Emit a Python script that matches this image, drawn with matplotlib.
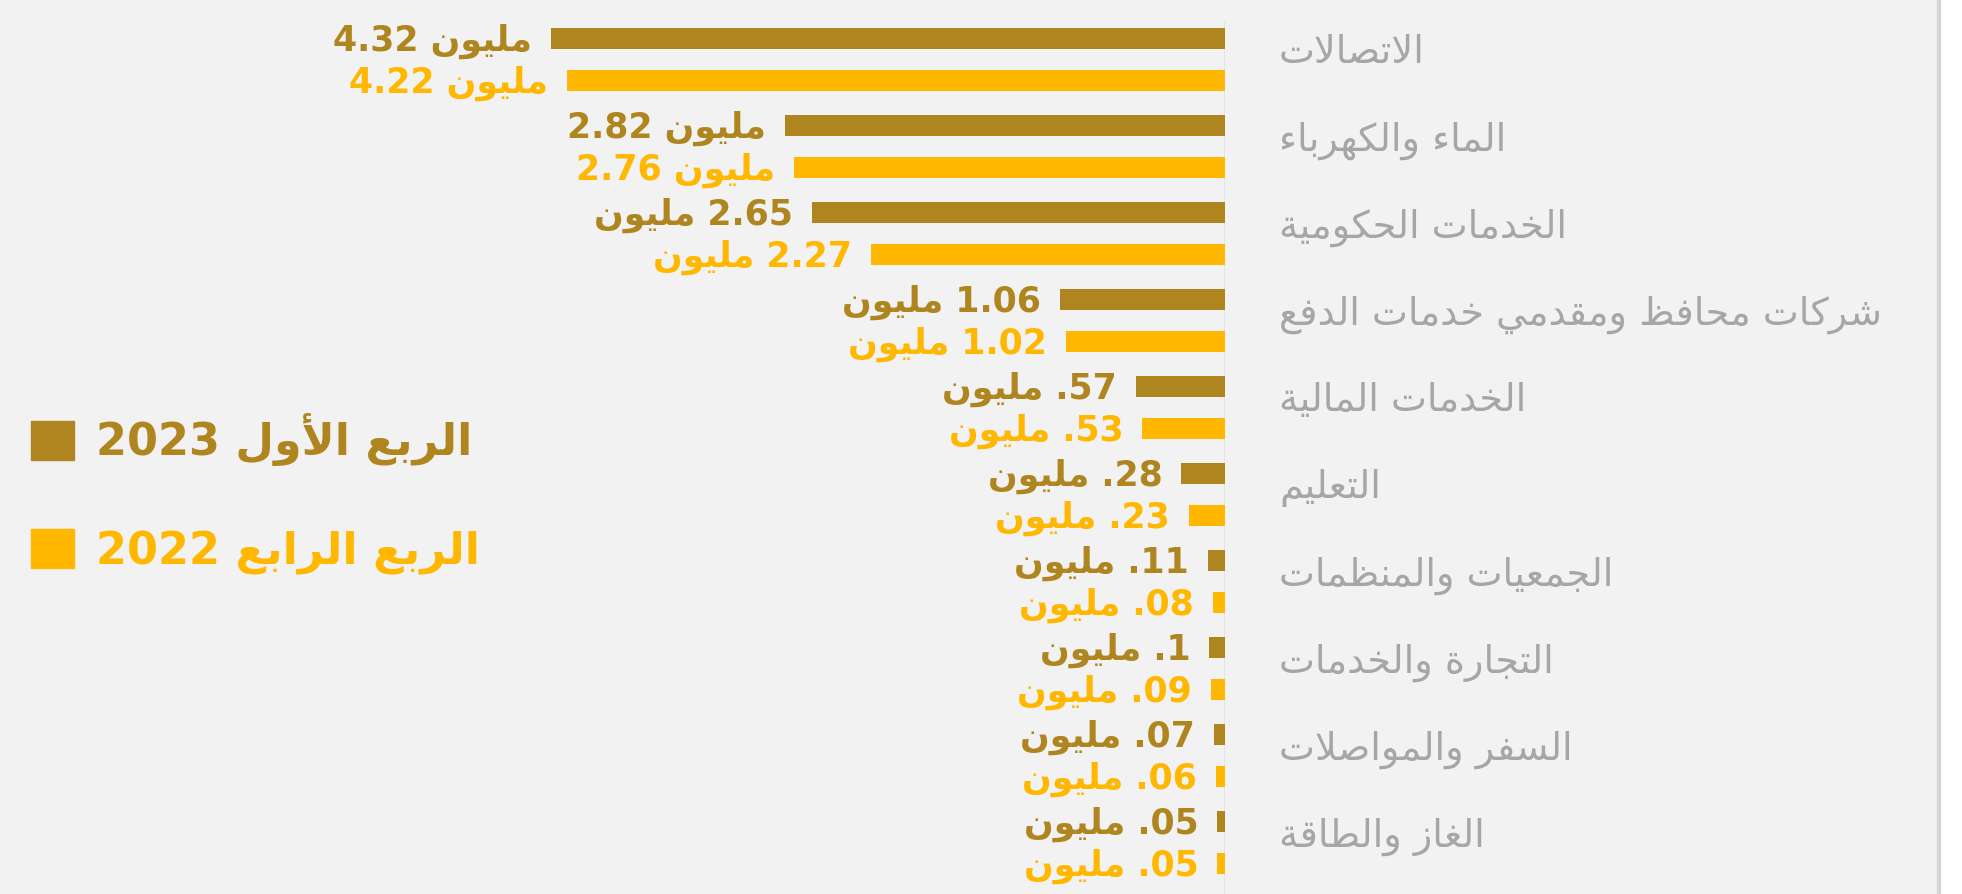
import matplotlib
matplotlib.use("Agg")
import matplotlib.pyplot as plt
from matplotlib.patches import Patch, Rectangle

# ---- data ----
categories = [
    "الاتصالات",
    "الماء والكهرباء",
    "الخدمات الحكومية",
    "شركات محافظ ومقدمي خدمات الدفع",
    "الخدمات المالية",
    "التعليم",
    "الجمعيات والمنظمات",
    "التجارة والخدمات",
    "السفر والمواصلات",
    "الغاز والطاقة",
]
q1_2023 = [4.32, 2.82, 2.65, 1.06, 0.57, 0.28, 0.11, 0.10, 0.07, 0.05]
q4_2022 = [4.22, 2.76, 2.27, 1.02, 0.53, 0.23, 0.08, 0.09, 0.06, 0.05]
series_names = ["الربع الأول 2023", "الربع الرابع 2022"]
unit = "مليون"
unit_first_rows = 2  # the top rows put the unit before the number

DARK = "#af8520"
YELLOW = "#ffb700"
GREY = "#a6a6a6"
BG = "#f2f2f2"

# ---- minimal Arabic shaping (matplotlib has no bidi / joining) ----
FORMS = {
    "ء": (0xFE80, 1), "آ": (0xFE81, 2), "أ": (0xFE83, 2), "ؤ": (0xFE85, 2),
    "إ": (0xFE87, 2), "ئ": (0xFE89, 4), "ا": (0xFE8D, 2), "ب": (0xFE8F, 4),
    "ة": (0xFE93, 2), "ت": (0xFE95, 4), "ث": (0xFE99, 4), "ج": (0xFE9D, 4),
    "ح": (0xFEA1, 4), "خ": (0xFEA5, 4), "د": (0xFEA9, 2), "ذ": (0xFEAB, 2),
    "ر": (0xFEAD, 2), "ز": (0xFEAF, 2), "س": (0xFEB1, 4), "ش": (0xFEB5, 4),
    "ص": (0xFEB9, 4), "ض": (0xFEBD, 4), "ط": (0xFEC1, 4), "ظ": (0xFEC5, 4),
    "ع": (0xFEC9, 4), "غ": (0xFECD, 4), "ف": (0xFED1, 4), "ق": (0xFED5, 4),
    "ك": (0xFED9, 4), "ل": (0xFEDD, 4), "م": (0xFEE1, 4), "ن": (0xFEE5, 4),
    "ه": (0xFEE9, 4), "و": (0xFEED, 2), "ى": (0xFEEF, 2), "ي": (0xFEF1, 4),
}
LAM_ALEF = {"آ": 0xFEF5, "أ": 0xFEF7, "إ": 0xFEF9, "ا": 0xFEFB}


def shape_word(w):
    out = []
    i = 0
    n = len(w)
    while i < n:
        c = w[i]
        prev = w[i - 1] if i > 0 else None
        prev_joins = prev in FORMS and FORMS[prev][1] == 4
        if c == "ل" and i + 1 < n and w[i + 1] in LAM_ALEF:
            out.append(chr(LAM_ALEF[w[i + 1]] + (1 if prev_joins else 0)))
            i += 2
            continue
        if c not in FORMS:
            out.append(c)
            i += 1
            continue
        base, nf = FORMS[c]
        nxt = w[i + 1] if i + 1 < n else None
        next_joins = nf == 4 and nxt in FORMS and FORMS[nxt][1] > 1
        prev_joins = prev_joins and nf > 1
        if prev_joins and next_joins:
            form = 3
        elif prev_joins:
            form = 1
        elif next_joins:
            form = 2
        else:
            form = 0
        out.append(chr(base + form))
        i += 1
    return "".join(reversed(out))


def visual(text):
    # RTL paragraph: reverse word order, shape Arabic words, leave numbers alone
    words = text.split(" ")[::-1]
    return " ".join(shape_word(w) if any(ch in FORMS for ch in w) else w for w in words)


def fmt(v):
    s = "%g" % v
    return s[1:] if s.startswith("0.") else s


# ---- figure ----
plt.rcParams["font.family"] = ["DejaVu Sans"]
W, H = 1962, 894
fig = plt.figure(figsize=(W / 100, H / 100), dpi=100, facecolor=BG)
fig.add_artist(Rectangle((1940 / W, 0), 1, 1, transform=fig.transFigure, color="white", zorder=0))
fig.add_artist(Rectangle((1937 / W, 0), 3 / W, 1, transform=fig.transFigure, color="#d6d6d6", zorder=0))

zero_px = 1225
px_per_unit = 156.0
pitch = 87.0
ax = fig.add_axes([0, 0, zero_px / W, 1])
ax.set_xlim(zero_px / px_per_unit, 0)
ax.set_ylim((H - 38.5) / pitch, -38.5 / pitch)
ax.axis("off")

gap = 41.5 / pitch
bh = 21 / pitch
y_dark = list(range(len(categories)))
y_yel = [y + gap for y in y_dark]

ax.axvline(0, ymin=0, ymax=1 - 22 / H, color="#e3e3e3", lw=2, zorder=0)
ax.barh(y_dark, q1_2023, height=bh, color=DARK, zorder=2)
ax.barh(y_yel, q4_2022, height=bh, color=YELLOW, zorder=2)

for i, cat in enumerate(categories):
    for ys, vals, col in ((y_dark, q1_2023, DARK), (y_yel, q4_2022, YELLOW)):
        v = vals[i]
        logical = f"{unit} {fmt(v)}" if i < unit_first_rows else f"{fmt(v)} {unit}"
        ax.annotate(visual(logical), xy=(v, ys[i]), xytext=(-19 * 0.72, -12.5 * 0.72),
                    textcoords="offset points", ha="right", va="baseline",
                    fontsize=25, fontweight="bold", color=col, annotation_clip=False)
    ax.annotate(visual(cat), xy=(0, y_dark[i] + gap / 2), xytext=(54 * 0.72, -4 * 0.72),
                textcoords="offset points", ha="left", va="baseline",
                fontsize=27.5, color=GREY, annotation_clip=False)

handles = [Patch(color=DARK), Patch(color=YELLOW)]
fig.legend(handles, [visual(s) for s in series_names], loc="center left",
           bbox_to_anchor=(31 / W, 1 - 494 / H), bbox_transform=fig.transFigure,
           frameon=False, borderpad=0, borderaxespad=0,
           prop={"size": 32, "weight": "bold"}, labelcolor=[DARK, YELLOW],
           handlelength=0.97, handleheight=0.97, handletextpad=0.5, labelspacing=1.42)

fig.savefig("out.png", dpi=100, facecolor=BG)
